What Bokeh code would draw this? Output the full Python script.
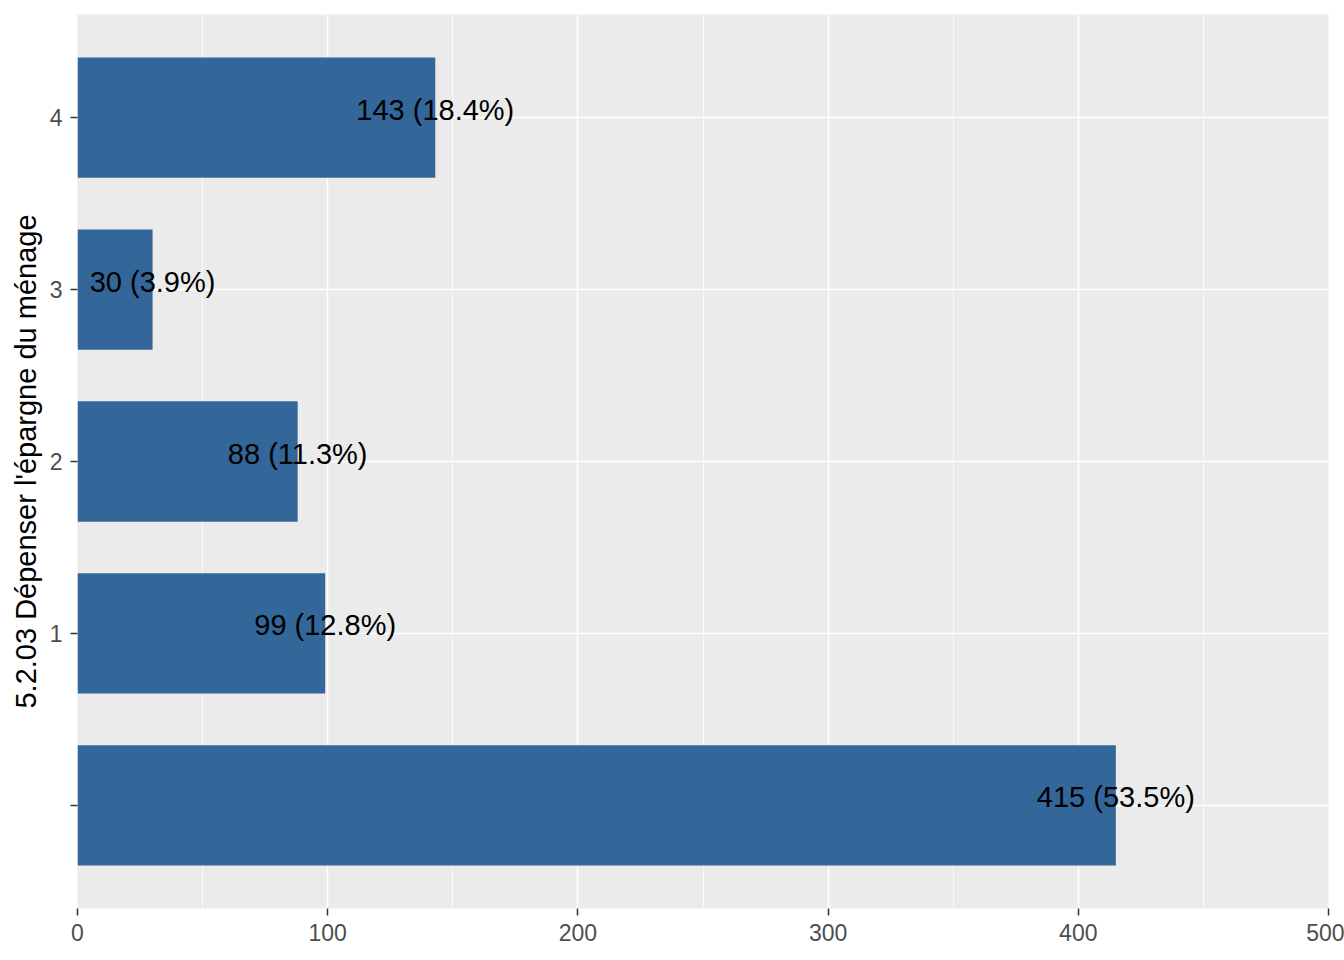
from bokeh.plotting import figure
from bokeh.models import ColumnDataSource, FixedTicker, Range1d
from bokeh.embed import file_html
from bokeh.resources import INLINE
from bokeh.core.properties import value

categories = ["", "1", "2", "3", "4"]
counts = [415, 99, 88, 30, 143]
percents = [53.5, 12.8, 11.3, 3.9, 18.4]
x_ticks = [0, 100, 200, 300, 400, 500]
y_title = "5.2.03 Dépenser l'épargne du ménage"

pos = list(range(1, len(categories) + 1))
labels = [f"{c} ({p}%)" for c, p in zip(counts, percents)]
src = ColumnDataSource(dict(y=pos, n=counts, lab=labels))

p = figure(width=1344, height=960, output_backend="svg", toolbar_location=None,
           x_range=Range1d(0, 500), y_range=Range1d(0.4, 5.6),
           min_border_left=77, min_border_right=16, min_border_top=14, min_border_bottom=52)
p.background_fill_color = "#EBEBEB"
p.border_fill_color = "white"
p.outline_line_color = None

p.hbar(y="y", left=0, right="n", height=0.7, source=src, color="#336699", line_color=None)
p.text(x="n", y="y", text="lab", source=src, text_align="center", text_baseline="middle",
       text_font=value("Liberation Sans"), text_font_size="29px", text_color="black", y_offset=-8)

p.xaxis.ticker = FixedTicker(ticks=x_ticks, minor_ticks=[50, 150, 250, 350, 450])
p.yaxis.ticker = FixedTicker(ticks=pos)
p.yaxis.major_label_overrides = {i: c for i, c in zip(pos, categories)}

for ax in (p.xaxis[0], p.yaxis[0]):
    ax.axis_line_color = None
    ax.major_tick_line_color = "#333333"
    ax.major_tick_line_width = 1.5
    ax.major_tick_out = 7
    ax.major_tick_in = 0
    ax.minor_tick_line_color = None
    ax.major_label_text_font = "Liberation Sans"
    ax.major_label_text_font_size = "23px"
    ax.major_label_text_color = "#4D4D4D"
    ax.major_label_standoff = 8

p.yaxis.axis_label = y_title
p.yaxis.axis_label_text_font = "Liberation Sans"
p.yaxis.axis_label_text_font_size = "29px"
p.yaxis.axis_label_text_font_style = "normal"
p.yaxis.axis_label_text_color = "black"
p.yaxis.axis_label_standoff = 5

p.xgrid.grid_line_color = "white"
p.xgrid.grid_line_width = 1.5
p.xgrid.minor_grid_line_color = "white"
p.xgrid.minor_grid_line_width = 0.7
p.ygrid.grid_line_color = "white"
p.ygrid.grid_line_width = 1.5

open("out.html", "w").write(file_html(p, INLINE))
